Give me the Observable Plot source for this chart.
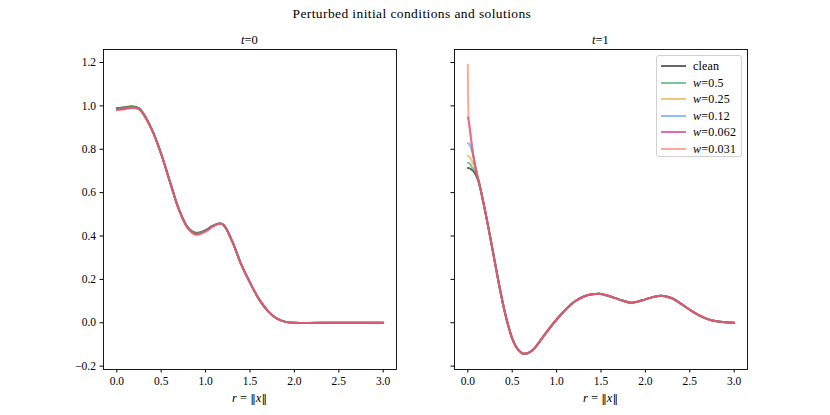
<!DOCTYPE html>
<html>
<head>
<meta charset="utf-8">
<script src="https://cdn.jsdelivr.net/npm/d3@7"></script>
<script src="https://cdn.jsdelivr.net/npm/@observablehq/plot@0.6"></script>
<style>
  body { margin: 0; background: #fff; }
  #fig { position: relative; width: 830px; height: 415px; font-family: "Liberation Serif", serif; color: #000; }
  .abs { position: absolute; white-space: nowrap; line-height: 1; }
  .legend { position: absolute; left: 656px; top: 55px; width: 86px; height: 102px; box-sizing: border-box;
            border: 1px solid #d0d0d0; border-radius: 3px; background: rgba(255,255,255,0.8); }
  .row { position: absolute; left: 0; height: 0; }
  .sw { position: absolute; left: 4px; width: 25px; height: 2px; top: -1px; }
  .lab { position: absolute; left: 36px; top: -7px; font-size: 12px; letter-spacing: 0.2px; white-space: nowrap; }
  .bars { font-family: "DejaVu Serif", serif; font-size: 0.9em; }
</style>
</head>
<body>
<div id="fig"></div>
<script>
// ---------- data ----------
const seriesNames = ["clean", "w=0.5", "w=0.25", "w=0.12", "w=0.062", "w=0.031"];
const seriesColors = ["#000000", "#269d57", "#e4a523", "#3f96ee", "#cb0789", "#ff6e53"];

const xTicks = [0, 0.5, 1.0, 1.5, 2.0, 2.5, 3.0];
const yTicks = [-0.2, 0, 0.2, 0.4, 0.6, 0.8, 1.0, 1.2];

// t = 0
const r0 = [0, 0.05, 0.1, 0.17, 0.25, 0.3, 0.4, 0.5, 0.6, 0.7, 0.8, 0.89, 1.0, 1.07, 1.15, 1.2, 1.3, 1.4, 1.5, 1.6, 1.7, 1.8, 1.9, 2.0, 2.5, 3.0];
const t0_clean = [0.990, 0.992, 0.995, 0.998, 0.990, 0.965, 0.887, 0.778, 0.648, 0.522, 0.440, 0.415, 0.427, 0.445, 0.458, 0.452, 0.375, 0.270, 0.185, 0.110, 0.055, 0.020, 0.004, 0, 0, 0];
const t0_w05   = [0.988, 0.990, 0.993, 0.996, 0.988, 0.964, 0.887, 0.778, 0.648, 0.522, 0.439, 0.413, 0.426, 0.445, 0.458, 0.452, 0.375, 0.270, 0.185, 0.110, 0.055, 0.020, 0.004, 0, 0, 0];
const t0_w025  = [0.986, 0.988, 0.991, 0.994, 0.987, 0.963, 0.886, 0.778, 0.648, 0.522, 0.438, 0.411, 0.425, 0.444, 0.458, 0.452, 0.375, 0.270, 0.185, 0.110, 0.055, 0.020, 0.004, 0, 0, 0];
const t0_w012  = [0.984, 0.986, 0.989, 0.993, 0.986, 0.962, 0.886, 0.778, 0.648, 0.522, 0.437, 0.409, 0.424, 0.443, 0.457, 0.452, 0.375, 0.270, 0.185, 0.110, 0.055, 0.020, 0.004, 0, 0, 0];
const t0_w0062 = [0.982, 0.984, 0.987, 0.991, 0.985, 0.961, 0.885, 0.778, 0.648, 0.522, 0.436, 0.407, 0.422, 0.442, 0.457, 0.452, 0.375, 0.270, 0.185, 0.110, 0.055, 0.020, 0.004, 0, 0, 0];
const t0_w0031 = [0.980, 0.982, 0.985, 0.990, 0.984, 0.960, 0.885, 0.778, 0.648, 0.522, 0.435, 0.405, 0.420, 0.441, 0.457, 0.452, 0.375, 0.270, 0.185, 0.110, 0.055, 0.020, 0.004, 0, 0, 0];

// t = 1 : head near r = 0 differs per series, tail is shared
const r1Head = [0, 0.01, 0.02, 0.03, 0.04, 0.06, 0.08, 0.10, 0.12, 0.14];
const t1Head_clean = [0.714, 0.713, 0.712, 0.710, 0.707, 0.700, 0.688, 0.672, 0.652, 0.622];
const t1Head_w05   = [0.738, 0.737, 0.734, 0.729, 0.722, 0.710, 0.697, 0.678, 0.655, 0.622];
const t1Head_w025  = [0.770, 0.768, 0.764, 0.758, 0.750, 0.733, 0.713, 0.688, 0.657, 0.622];
const t1Head_w012  = [0.828, 0.826, 0.821, 0.812, 0.800, 0.772, 0.730, 0.692, 0.657, 0.622];
const t1Head_w0062 = [0.947, 0.930, 0.900, 0.868, 0.834, 0.775, 0.730, 0.692, 0.657, 0.622];
const t1Head_w0031 = [1.190, 0.940, 0.905, 0.870, 0.835, 0.775, 0.730, 0.692, 0.657, 0.622];
const r1Tail = [0.17, 0.2, 0.25, 0.3, 0.35, 0.4, 0.45, 0.5, 0.55, 0.6, 0.63, 0.7, 0.75, 0.8, 0.9, 1.0, 1.1, 1.2, 1.3, 1.4, 1.48, 1.6, 1.7, 1.83, 1.9, 2.0, 2.1, 2.18, 2.3, 2.4, 2.5, 2.6, 2.7, 2.8, 2.9, 3.0];
const t1Tail = [0.565, 0.505, 0.400, 0.290, 0.180, 0.080, -0.005, -0.072, -0.115, -0.137, -0.143, -0.135, -0.118, -0.092, -0.036, 0.015, 0.060, 0.097, 0.120, 0.131, 0.134, 0.122, 0.108, 0.093, 0.096, 0.108, 0.120, 0.125, 0.113, 0.088, 0.060, 0.035, 0.017, 0.007, 0.002, 0.0];

// ---------- build tables ----------
const t0Series = [t0_clean, t0_w05, t0_w025, t0_w012, t0_w0062, t0_w0031];
const t1Heads = [t1Head_clean, t1Head_w05, t1Head_w025, t1Head_w012, t1Head_w0062, t1Head_w0031];
const r1 = r1Head.concat(r1Tail);

const data0 = t0Series.flatMap((vals, k) => vals.map((v, i) => ({r: r0[i], v, s: seriesNames[k], k})));
const data1 = t1Heads.flatMap((head, k) => head.concat(t1Tail).map((v, i) => ({r: r1[i], v, s: seriesNames[k], k})));

const fmt = d3.format(".1f");
const fig = document.getElementById("fig");

function panel(data, left, marginLeft, marginRight, showYLabels) {
  const p = Plot.plot({
    width: 415, height: 415,
    marginLeft, marginRight, marginTop: 49, marginBottom: 46,
    style: {fontFamily: "'Liberation Serif', serif", fontSize: "11.5px", color: "#000", background: "transparent", overflow: "visible"},
    x: {domain: [-0.15, 3.15], ticks: xTicks, tickFormat: fmt, tickSize: 3.5, tickPadding: 4, label: null},
    y: {domain: [-0.2155, 1.26], ticks: yTicks, tickFormat: showYLabels ? fmt : () => "", tickSize: 3.5, tickPadding: 4, label: null},
    color: {domain: seriesNames, range: seriesColors},
    marks: [
      Plot.line(data, {x: "r", y: "v", z: "s", stroke: "s", strokeOpacity: 0.6, strokeWidth: 2, curve: "catmull-rom"}),
      Plot.frame({stroke: "#000", strokeWidth: 0.9})
    ]
  });
  p.style.position = "absolute";
  p.style.left = left + "px";
  p.style.top = "0px";
  fig.appendChild(p);
}

panel(data0, 0, 103, 19, true);
panel(data1, 415, 39, 83, false);

function addText(html, x, y, size, spacing) {
  const d = document.createElement("div");
  d.className = "abs";
  d.innerHTML = html;
  d.style.fontSize = size + "px";
  if (spacing) d.style.letterSpacing = spacing + "px";
  fig.appendChild(d);
  d.style.left = (x - d.offsetWidth / 2) + "px";
  d.style.top = (y - d.offsetHeight / 2) + "px";
}

addText("Perturbed initial conditions and solutions", 412, 14, 13.5, 0.4);
addText("<i>t</i>=0", 249.5, 40, 12.5);
addText("<i>t</i>=1", 600.5, 40, 12.5);
addText("<i>r</i> = <span class='bars'>‖</span><i>x</i><span class='bars'>‖</span>", 249.5, 398, 12.5);
addText("<i>r</i> = <span class='bars'>‖</span><i>x</i><span class='bars'>‖</span>", 600.5, 398, 12.5);

// legend
const lg = document.createElement("div");
lg.className = "legend";
const rowY = [10, 26.5, 43, 59.5, 76, 92.5];
seriesNames.forEach((name, k) => {
  const row = document.createElement("div");
  row.className = "row";
  row.style.top = rowY[k] + "px";
  const sw = document.createElement("div");
  sw.className = "sw";
  sw.style.background = seriesColors[k];
  sw.style.opacity = 0.6;
  const lab = document.createElement("div");
  lab.className = "lab";
  lab.innerHTML = name === "clean" ? "clean" : "<i>w</i>=" + name.slice(2);
  row.appendChild(sw);
  row.appendChild(lab);
  lg.appendChild(row);
});
fig.appendChild(lg);
</script>
</body>
</html>
